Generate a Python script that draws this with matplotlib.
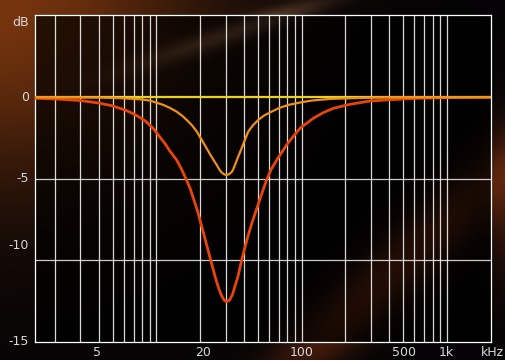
import numpy as np
import matplotlib
matplotlib.use('Agg')
import matplotlib.pyplot as plt
import matplotlib.transforms as mtransforms

# ------------------------ dane ------------------------
# frequency (kHz axis) and gain in dB
red_f = [1.46, 2.0, 3.0, 4.0, 4.9, 6.1, 7.1, 8.4, 9.5, 10.6, 11.5, 12.4, 13.8, 14.8,
         16.0, 17.1, 18.0, 19.1, 20.0, 21.1, 22.2, 23.7, 25.4, 26.6, 27.9, 29.3, 30.5,
         31.9, 33.5, 34.8, 36.5, 38.7, 40.8, 43.0, 45.6, 49.1, 52.6, 57.6, 61.6, 67.5,
         73.4, 80.7, 88.8, 97.7, 120.6, 140.6, 165.6, 215.8, 296, 407, 621, 1054, 2010]
red_db = [-0.06, -0.1, -0.2, -0.35, -0.51, -0.78, -1.05, -1.45, -1.9, -2.45, -2.85, -3.3,
          -3.85, -4.35, -5.0, -5.6, -6.2, -6.9, -7.55, -8.3, -9.05, -10.0, -11.0, -11.6,
          -12.1, -12.45, -12.55, -12.45, -12.1, -11.6, -11.0, -10.0, -9.2, -8.45,
          -7.7, -6.85, -6.05, -5.05, -4.45, -3.85, -3.35, -2.8, -2.35, -1.9, -1.29, -0.95,
          -0.68, -0.43, -0.23, -0.15, -0.06, -0.02, 0.0]

orange_f = [1.46, 4.1, 5.6, 7.7, 9.05, 11.2, 12.4, 13.8, 15.0, 16.2, 17.6, 19.0, 20.5,
            22.2, 24.0, 26.1, 27.25, 28.3, 29.5, 30.5, 31.7, 32.95, 33.75, 34.8, 36.5,
            38.7, 40.8, 43.0, 46.3, 50.4, 55.2, 62.3, 70.0, 81.1, 97.7, 117.5, 157, 253,
            477, 2010]
orange_db = [0.0, -0.02, -0.05, -0.12, -0.2, -0.47, -0.65, -0.88, -1.12, -1.39, -1.72,
             -2.1, -2.6, -3.13, -3.65, -4.16, -4.45, -4.63, -4.74, -4.77, -4.72, -4.6,
             -4.45, -4.16, -3.68, -3.13, -2.6, -2.1, -1.72, -1.39, -1.12, -0.88, -0.66,
             -0.47, -0.32, -0.2, -0.1, -0.04, 0.0, 0.0]

yellow_f = [1.46, 2010]
yellow_db = [0.0, 0.0]

grid_f = [2, 3, 4, 5, 6, 7, 8, 9, 10, 20, 30, 40, 50, 60, 70, 80, 90, 100,
          200, 300, 400, 500, 600, 700, 800, 900, 1000]
grid_db = [-5, -10]

xlab_pos = [3.9, 20.9, 100, 510, 1000, 2070]
xlab_txt = ['5', '20', '100', '500', '1k', 'kHz']
ylab_pos = [4.6, 0, -5, -9.1, -15]
ylab_txt = ['dB', '0', '-5', '-10', '-15']

# ------------------------ tlo ------------------------
W, H = 505, 360
fig = plt.figure(figsize=(W / 100, H / 100), dpi=100)

yy, xx = np.mgrid[0:H, 0:W].astype(float)
bg = np.zeros((H, W, 3)) + np.array([0.02, 0.015, 0.02])
glow = np.exp(-((xx / 200) ** 2 + (yy / 180) ** 2))
bg += glow[..., None] * np.array([0.44, 0.19, 0.035])


def band(x0, y0, x1, y1, width):
    dx, dy = x1 - x0, y1 - y0
    n = np.hypot(dx, dy)
    d = np.abs(dy * (xx - x0) - dx * (yy - y0)) / n
    return np.exp(-(d / width) ** 2)


bg += (band(120, 70, 330, 0, 10) * np.exp(-((xx - 220) / 90) ** 2))[..., None] * np.array([0.38, 0.28, 0.2])
bg += (band(290, 360, 505, 170, 30) * np.exp(-((xx - 400) / 120) ** 2))[..., None] * np.array([0.40, 0.15, 0.04])
bg += (np.exp(-((xx - 505) / 18) ** 2) * np.exp(-((yy - 200) / 80) ** 2))[..., None] * np.array([0.18, 0.07, 0.02])
bg = np.clip(bg, 0, 1)

bg_ax = fig.add_axes([0, 0, 1, 1])
bg_ax.imshow(bg, aspect='auto', interpolation='bilinear')
bg_ax.axis('off')

# ------------------------ wykres ------------------------
ax = fig.add_axes([35 / W, 1 - 341.7 / H, (490.7 - 35) / W, (341.7 - 15) / H])
ax.set_facecolor((0, 0, 0, 0.68))
ax.set_xscale('log')
ax.set_xlim(1.46, 2010)
ax.set_ylim(-15, 5.05)

for f in grid_f:
    ax.axvline(f, color='white', lw=0.9, alpha=0.85, zorder=1)
for d in grid_db:
    ax.axhline(d, color='white', lw=0.9, alpha=0.8, zorder=1)

ax.plot(red_f, red_db, color='#e8440c', lw=2.0, zorder=3, solid_joinstyle='round')
ax.plot(yellow_f, yellow_db, color='#ead21e', lw=1.6, zorder=4)
ax.plot(orange_f, orange_db, color='#f0901a', lw=1.6, zorder=5, solid_joinstyle='round')

for s in ax.spines.values():
    s.set_color('white')
    s.set_linewidth(0.9)
ax.set_xticks([])
ax.set_yticks([])
ax.minorticks_off()

tx = mtransforms.blended_transform_factory(ax.transData, ax.transAxes)
for p, t in zip(xlab_pos, xlab_txt):
    ax.text(p, -0.033, t, transform=tx, ha='center', va='center',
            color='#d8d8d8', fontsize=9, clip_on=False)

ty = mtransforms.blended_transform_factory(ax.transAxes, ax.transData)
for p, t in zip(ylab_pos, ylab_txt):
    ax.text(-0.013, p, t, transform=ty, ha='right', va='center',
            color='#d8d8d8', fontsize=9, clip_on=False)

fig.savefig('out.png', dpi=100)
